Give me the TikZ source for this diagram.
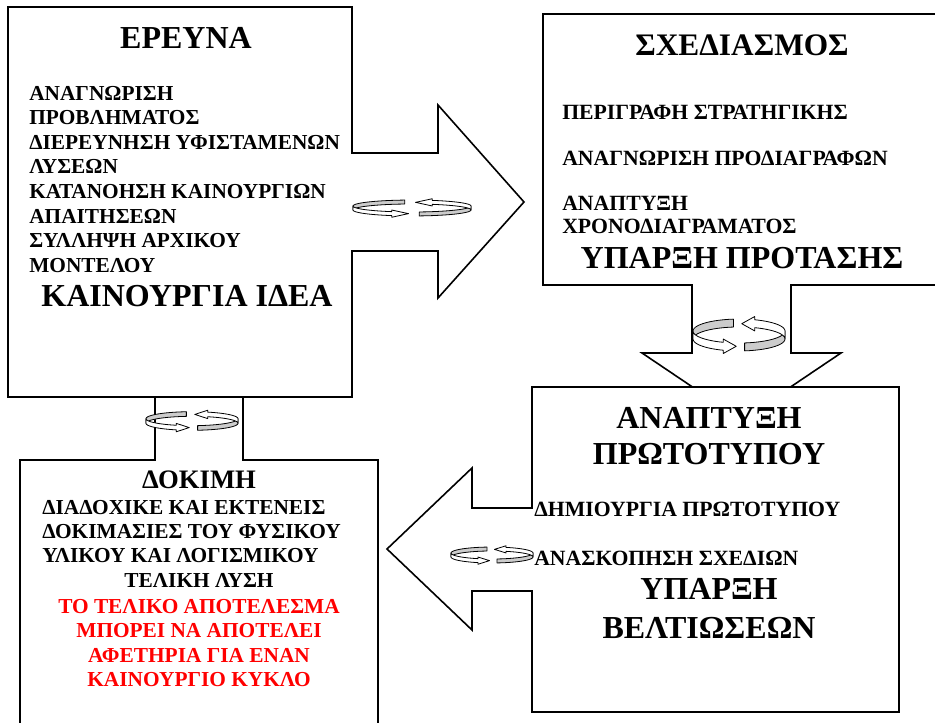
\documentclass[tikz,border=0pt]{standalone}
\usepackage{fontspec}
\setmainfont{Liberation Serif}
\tikzset{
  box/.style={draw,fill=white,line width=1.2pt,line join=miter},
  big/.style={font=\fontsize{24}{27}\selectfont\bfseries,inner sep=0pt,anchor=north,align=center},
  body/.style={font=\fontsize{16}{18.4}\selectfont\bfseries,inner sep=0pt,anchor=north west,align=left},
  small/.style={font=\fontsize{16.3}{17.3}\selectfont\bfseries,inner sep=0pt,anchor=north west,align=left},
  spin/.pic={
    \filldraw[fill=gray!40] plot[domain=97:180,samples=14] ({cos(\x)},{sin(\x)+.33})
      -- plot[domain=180:97,samples=14] ({cos(\x)},{sin(\x)-.33}) -- cycle;
    \filldraw[fill=white] plot[domain=180:250,samples=14] ({cos(\x)},{sin(\x)+.33})
      -- (-.342,-.34) -- (-.06,-.94) -- (-.342,-1.54) -- (-.342,-1.27)
      -- plot[domain=250:180,samples=14] ({cos(\x)},{sin(\x)-.33}) -- cycle;
    \filldraw[fill=gray!40] plot[domain=-83:0,samples=14] ({cos(\x)},{sin(\x)+.33})
      -- plot[domain=0:-83,samples=14] ({cos(\x)},{sin(\x)-.33}) -- cycle;
    \filldraw[fill=white] plot[domain=0:70,samples=14] ({cos(\x)},{sin(\x)-.33})
      -- (.342,.34) -- (.06,.94) -- (.342,1.54) -- (.342,1.27)
      -- plot[domain=70:0,samples=14] ({cos(\x)},{sin(\x)+.33}) -- cycle;
  }
}
\begin{document}
\begin{tikzpicture}[x=0.75pt,y=-0.75pt,line join=round]
  \clip (0,0) rectangle (935,723);
  \draw[box] (20,460) -- (155,460) -- (155,360) -- (110,360) -- (199,300) -- (288,360)
    -- (243,360) -- (243,460) -- (378,460) -- (378,740) -- (20,740) -- cycle;
  \draw[box] (543,14) -- (960,14) -- (960,285) -- (791,285) -- (791,353) -- (841,353)
    -- (741.5,420) -- (642,353) -- (692,353) -- (692,285) -- (543,285) -- cycle;
  \draw[box] (532,387) -- (899,387) -- (899,712) -- (532,712) -- (532,591) -- (472,591)
    -- (472,630) -- (387,549) -- (472,468) -- (472,508) -- (532,508) -- cycle;
  \draw[box] (8,7) -- (352,7) -- (352,153) -- (438,153) -- (438,105) -- (524,202)
    -- (438,298) -- (438,251) -- (352,251) -- (352,397) -- (8,397) -- cycle;

  \node[big] (ereuna) at (186,27) {ΕΡΕΥΝΑ};
  \node[body] (ereunatxt) at (29,86) {ΑΝΑΓΝΩΡΙΣΗ\\ΠΡΟΒΛΗΜΑΤΟΣ\\ΔΙΕΡΕΥΝΗΣΗ ΥΦΙΣΤΑΜΕΝΩΝ\\ΛΥΣΕΩΝ\\
    ΚΑΤΑΝΟΗΣΗ ΚΑΙΝΟΥΡΓΙΩΝ\\ΑΠΑΙΤΗΣΕΩΝ\\ΣΥΛΛΗΨΗ ΑΡΧΙΚΟΥ\\ΜΟΝΤΕΛΟΥ};
  \node[big] (idea) at (187,285) {ΚΑΙΝΟΥΡΓΙΑ ΙΔΕΑ};

  \node[big,font=\fontsize{23.5}{26}\selectfont\bfseries] (sxed) at (742,34) {ΣΧΕΔΙΑΣΜΟΣ};
  \node[small] (strat) at (562,105) {ΠΕΡΙΓΡΑΦΗ ΣΤΡΑΤΗΓΙΚΗΣ};
  \node[small] (prodiagr) at (562,151) {ΑΝΑΓΝΩΡΙΣΗ ΠΡΟΔΙΑΓΡΑΦΩΝ};
  \node[small] (xrono) at (562,196) {ΑΝΑΠΤΥΞΗ\\ΧΡΟΝΟΔΙΑΓΡΑΜΑΤΟΣ};
  \node[big] (protasi) at (742,247) {ΥΠΑΡΞΗ ΠΡΟΤΑΣΗΣ};

  \node[big] (anaptyxi) at (709,407) {ΑΝΑΠΤΥΞΗ\\ΠΡΩΤΟΤΥΠΟΥ};
  \node[small] (dimiourgia) at (534,502) {ΔΗΜΙΟΥΡΓΙΑ ΠΡΩΤΟΤΥΠΟΥ};
  \node[small] (anaskopisi) at (534,551) {ΑΝΑΣΚΟΠΗΣΗ ΣΧΕΔΙΩΝ};
  \node[big,font=\fontsize{24}{29}\selectfont\bfseries] (veltioseis) at (709,578) {ΥΠΑΡΞΗ\\ΒΕΛΤΙΩΣΕΩΝ};

  \node[big,font=\fontsize{20}{23}\selectfont\bfseries] (dokimi) at (199,471) {ΔΟΚΙΜΗ};
  \node[body,font=\fontsize{16}{18}\selectfont\bfseries] (dokimitxt) at (42,500)
    {ΔΙΑΔΟΧΙΚΕ ΚΑΙ ΕΚΤΕΝΕΙΣ\\ΔΟΚΙΜΑΣΙΕΣ ΤΟΥ ΦΥΣΙΚΟΥ\\ΥΛΙΚΟΥ ΚΑΙ ΛΟΓΙΣΜΙΚΟΥ};
  \node[big,font=\fontsize{16}{18}\selectfont\bfseries] (lysi) at (199,573) {ΤΕΛΙΚΗ ΛΥΣΗ};
  \node[big,font=\fontsize{16}{18.4}\selectfont\bfseries,text=red] (kyklos) at (199,599)
    {ΤΟ ΤΕΛΙΚΟ ΑΠΟΤΕΛΕΣΜΑ\\ΜΠΟΡΕΙ ΝΑ ΑΠΟΤΕΛΕΙ\\ΑΦΕΤΗΡΙΑ ΓΙΑ ΕΝΑΝ\\ΚΑΙΝΟΥΡΓΙΟ ΚΥΚΛΟ};

  \pic[xscale=59,yscale=-6,line width=.6pt] (spinA) at (412,208) {spin};
  \pic[xscale=46,yscale=-12,line width=.6pt] (spinB) at (739,335) {spin};
  \pic[xscale=46,yscale=-7,line width=.6pt] (spinC) at (192,421) {spin};
  \pic[xscale=41,yscale=-6,line width=.6pt] (spinD) at (492,555) {spin};
\end{tikzpicture}
\end{document}
